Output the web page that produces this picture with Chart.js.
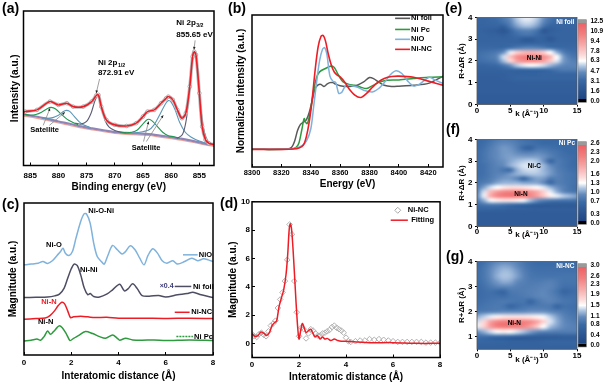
<!DOCTYPE html>
<html><head><meta charset="utf-8"><title>Ni XPS XAS figure</title>
<script src="https://cdn.jsdelivr.net/npm/chart.js@4.4.1/dist/chart.umd.min.js"></script>
<style>
html,body{margin:0;padding:0;background:#fff;}
#wrap{position:relative;width:606px;height:385px;overflow:hidden;background:#fff;font-family:"Liberation Sans",Arial,sans-serif;}
#wrap canvas{position:absolute;}
.pl{position:absolute;font-weight:bold;font-size:14px;line-height:14px;color:#000;white-space:nowrap;}
</style></head>
<body><div id="wrap">
<canvas id="ca" width="220" height="195" style="left:0;top:0"></canvas>
<canvas id="cb" width="226" height="195" style="left:222px;top:0"></canvas>
<canvas id="cc" width="222" height="193" style="left:0;top:192px"></canvas>
<canvas id="cd" width="226" height="193" style="left:222px;top:192px"></canvas>
<canvas id="ce" width="151" height="122" style="left:455px;top:0"></canvas>
<canvas id="cf" width="151" height="122" style="left:455px;top:122px"></canvas>
<canvas id="cg" width="151" height="125" style="left:455px;top:244px"></canvas>
<div class="pl" style="left:2px;top:1px">(a)</div>
<div class="pl" style="left:228px;top:1px">(b)</div>
<div class="pl" style="left:2px;top:197px">(c)</div>
<div class="pl" style="left:220px;top:196px">(d)</div>
<div class="pl" style="left:445px;top:1px">(e)</div>
<div class="pl" style="left:446px;top:122px">(f)</div>
<div class="pl" style="left:446px;top:249px">(g)</div>
</div>
<script>
// ================= DATA =================
// (a) XPS Ni 2p
const xpsTicks = [885,880,875,870,865,860,855];
const envBE = [886.2,885.9,883.8,881.5,880.0,878.5,877.4,875.6,874.1,873.3,872.9,872.4,871.5,870.0,867.9,866.2,865.0,864.2,863.0,861.8,860.9,860.5,859.7,858.9,858.1,857.4,856.7,856.2,855.9,855.6,855.0,854.5,853.9,853.3,852.4];
const envY  = [34.5,34.9,36.0,41.4,39.2,40.3,38.1,38.1,41.4,45.3,45.7,38.1,29.5,26.3,25.6,27.4,31.7,34.9,36.0,40.3,43.5,44.6,42.5,36.0,30.6,33.8,51.1,70.5,73.7,71.6,46.8,25.2,16.6,14.4,13.5];
const bgBE  = [886.2,884,882,880,878,876,874,872,870,868,866,864,862,860,858,856,854,852.4];
const bgY   = [33,31.7,30.2,28.5,27,25.3,24,22.8,21.6,21.1,20.7,20.3,19.3,18.3,17.2,15.8,14.2,13.4];
const bg2Y  = [32,30.7,29.2,27.5,26,24.4,23.1,21.9,20.7,20.2,19.8,19.4,18.4,17.4,16.3,14.9,13.3,12.5];
const p3BE = [859,858,857.3,856.8,856.3,855.9,855.6,855.2,854.8,854.3,853.8,853.3,852.4];
const p3Y  = [17.5,20,30,48,66,72,71,58,40,25,18,15,13.6];
const s3BE = [867,866,864,863,862,861,860.5,860,859.3,858.5,857.5,856.5,855,853.5];
const s3Y  = [21,21.3,23,26.5,33,40,42,41,36,28,21.5,18.5,15.8,14];
const g3BE = [869,868,867,866,865,864.2,863.5,862.5,861.5,860.5,859.5,858.5];
const g3Y  = [21.2,21.1,21.5,23,27,29.8,29.2,25.5,21.5,19.3,18.6,17.6];
const p1BE = [877,876,875,874.2,873.6,873.1,872.7,872.3,871.7,871,870,869,868];
const p1Y  = [27.5,26.8,28.5,34,41,45,43.5,37,29,24.8,22.6,21.6,21.2];
const s1BE = [883,882,881,880,879.2,878.6,878,877.2,876.3,875.5,874.5];
const s1Y  = [31,30.5,31,32.5,34.8,35.7,35,31.8,28.2,26.2,24.9];
const g1BE = [886,885,884,883,882,881.3,880.5,879.5,878.5,877.5,876.5];
const g1Y  = [33.2,32.5,33,34.5,36.8,37.6,36.6,33.2,30,28,26.3];

// (b) XANES
const xanesTicks = [8300,8320,8340,8360,8380,8400,8420];
const foilE = [8300,8324,8327,8329,8331,8333,8335,8337,8339,8341,8343,8345,8347,8349,8351,8353,8355,8357,8360,8364,8368,8372,8376,8380,8383,8386,8390,8395,8400,8410,8420,8430];
const foilY = [11.6,11.8,13,17,24,28,29.5,31,36,44,51.6,54,54.3,53,54.5,55.5,55.5,54.5,53.5,53,53.2,54,56,58.9,58,56,53.8,53,53.2,53.8,55,59.8];
const pcE = [8300,8326,8330,8332,8334,8335.5,8336.5,8337.5,8338.5,8340,8342,8344,8346,8350,8354,8356,8358,8360,8362,8366,8370,8374,8378,8382,8386,8392,8400,8410,8420,8430];
const pcY = [11.6,11.8,13,16,25,31.9,29.5,28.5,31,38,50.5,59,62.6,64.8,66.4,65.5,62,58.5,56,54.3,53.8,52.5,51.6,53.5,55.5,57.1,57.3,58.2,59,59.3];
const nioE = [8300,8325,8330,8334,8337,8340,8342,8344,8346,8348,8349.5,8351,8353,8355,8357,8359,8361,8364,8368,8372,8376,8382,8386,8390,8394,8398,8402,8406,8410,8414,8418,8421,8425,8430];
const nioY = [11.6,11.8,12.5,14,17,25,40,56,70,77.5,78.5,74,60,56.5,55.5,48.5,49,53.8,53.5,52.5,50.5,49.4,51.5,55.5,60.5,63.3,61.5,56.5,53.2,54.5,57.5,59,57,55];
const ncE = [8300,8320,8328,8332,8335,8337,8339,8341,8343,8345,8347,8348.5,8350,8352,8354,8356,8358,8360,8363,8366,8370,8374,8378,8382,8386,8390,8395,8400,8410,8420,8430];
const ncY = [11.6,11.6,11.8,12.5,14.5,20,30,45,64,79,86,86.5,83,74,67,62.5,60.5,59.3,56,51.5,47.3,45.7,48.4,52.5,56,58.2,59.5,59.8,59,56.5,53.8];

// (c) FT-EXAFS (stacked, offsets included)
const rTicks = [0,2,4,6,8];
const cR_NiO = [0,0.3,0.6,0.8,1.0,1.2,1.4,1.55,1.65,1.75,1.9,2.05,2.2,2.4,2.55,2.65,2.8,2.95,3.1,3.3,3.4,3.55,3.75,3.95,4.15,4.3,4.5,4.7,4.9,5.08,5.25,5.45,5.65,5.85,6.05,6.3,6.5,6.8,7.1,7.35,7.6,7.8,8.0];
const c_NiO  = [59.3,59.8,60.4,61.5,60.2,62,65.5,68.1,70.3,67,65.5,68.1,76.9,87.9,93,92.7,86.8,73.6,64.8,61.1,59.8,65.5,72.1,69.2,66.4,68.1,71.9,69.2,63.7,59.3,65.5,69.9,67,62,60.4,62,59.8,61.5,63.7,62,63.3,62.6,61.5];
const cR_foil = [0,0.5,1.0,1.3,1.5,1.7,1.85,2.0,2.12,2.25,2.4,2.55,2.7,2.8,2.95,3.2,3.5,3.75,4.05,4.25,4.4,4.6,4.8,5.0,5.3,5.7,6.0,6.5,6.9,7.15,7.5,8.0];
const c_foil  = [37.8,38,38.2,38.9,40,44,50.5,56.7,59.8,58.9,52.7,44,39.6,40.4,38.5,38.2,40,42.9,46.6,42.2,43.5,46.8,43.5,39.1,38.7,39.1,38.2,39.6,40.4,41.3,39.6,37.8];
const cR_NC = [0,0.5,0.9,1.1,1.3,1.45,1.6,1.72,1.85,1.97,2.1,2.4,2.7,3.0,3.5,4.0,5.0,6.0,7.0,8.0];
const c_NC  = [23.5,24,24.4,25.9,29.2,32.5,34.7,33.6,29,24.6,25.1,25.5,25.1,24.6,24.8,24.2,24.2,24,24.2,24];
const cR_Pc = [0,0.3,0.55,0.7,0.85,1.0,1.12,1.25,1.4,1.5,1.62,1.78,1.95,2.1,2.3,2.6,2.9,3.2,3.45,3.75,3.95,4.05,4.3,4.6,5.0,5.5,6.0,7.0,8.0];
const c_Pc  = [9.2,9.7,10.5,9.7,12.1,15.8,13.6,15.4,18,19.3,18,14.3,9.5,11,12.7,15.4,14.1,12.1,11,13.2,11,9.7,11,9.9,9.7,9.9,9.5,9.9,9.5];

// (d) Ni-NC fitting
const dYTicks = [0,2,4,6,8,10];
const dFitR = [0,0.12,0.25,0.38,0.5,0.62,0.75,0.85,0.95,1.05,1.15,1.25,1.35,1.45,1.52,1.58,1.63,1.68,1.74,1.8,1.87,1.94,2.0,2.07,2.14,2.22,2.3,2.4,2.5,2.58,2.68,2.78,2.9,3.0,3.1,3.2,3.35,3.5,3.65,3.8,4.0,4.5,5.0,6.0,7.0,8.0];
const dFit  = [0.7,0.5,0.55,0.8,0.72,0.55,0.8,1.25,1.45,1.6,2.6,3.2,3.8,4.9,6.3,8.0,8.45,8.1,6.8,5.1,3.0,1.2,0.3,0.9,1.4,1.1,0.75,0.9,1.0,0.75,0.45,0.55,0.3,0.45,0.3,0.35,0.2,0.3,0.2,0.15,0.15,0.1,0.05,0.05,0,0];
const dDataR = [0,0.1,0.2,0.3,0.4,0.5,0.6,0.7,0.8,0.9,1.0,1.1,1.2,1.3,1.4,1.5,1.6,1.7,1.8,1.9,2.0,2.1,2.2,2.3,2.4,2.5,2.6,2.7,2.8,2.9,3.0,3.1,3.2,3.3,3.4,3.5,3.6,3.7,3.8,3.9,4.0,4.1,4.2,4.4,4.6,4.8,5.0,5.2,5.4,5.6,5.8,6.0,6.2,6.4,6.6,6.8,7.0,7.2,7.4,7.6,7.8,8.0];
const dData  = [0.65,0.5,0.45,0.65,0.75,0.6,0.5,0.85,1.25,1.4,1.6,2.5,3.1,3.6,4.4,5.9,8.4,7.7,4.4,2.2,0.5,1.1,1.0,0.35,0.7,1.0,0.9,0.7,0.55,0.55,0.7,0.75,0.85,0.95,1.15,1.25,1.1,1.0,0.9,0.75,0.4,0.15,0.1,0.15,0.2,0.2,0.3,0.25,0.3,0.25,0.2,0.15,0.1,0.1,0.1,0.1,0.1,0.1,0.05,0.05,0.05,0.05];

// (e)-(g) wavelet transforms: values in % of colour-bar maximum
const kTicks = [0,5,10,15];
const wtK = [0,1,2,3,4,5,6,7,8,9,10,11,12,13,14,15];
const wtR = [4.0,3.8,3.6,3.4,3.2,3.0,2.8,2.6,2.4,2.2,2.0,1.8,1.6,1.4,1.2,1.0,0.8,0.6,0.4,0.2,0.0];
const wtFoil = [
[22,22,24,26,30,36,44,48,48,44,36,28,25,24,24,24],
[22,22,23,25,28,34,42,46,46,42,34,27,24,23,23,23],
[21,21,22,22,20,30,38,42,42,38,28,21,22,22,22,22],
[21,20,19,17,12,22,30,33,33,28,13,18,20,21,21,21],
[21,21,20,20,18,22,26,28,28,25,20,20,21,21,21,21],
[21,21,21,21,21,21,22,16,15,20,20,14,20,21,21,21],
[22,22,22,22,22,22,22,21,21,22,22,21,22,22,22,22],
[24,24,24,24,25,28,31,33,34,33,31,28,26,25,24,24],
[26,27,28,30,36,48,60,66,68,66,60,50,40,31,27,26],
[27,28,30,34,46,64,80,86,87,85,80,68,50,37,30,28],
[26,27,28,31,42,58,74,80,82,80,74,62,47,37,33,31],
[22,22,23,25,29,36,44,48,50,49,46,41,37,34,33,33],
[20,20,20,20,21,22,23,24,25,25,25,26,28,30,30,30],
[19,19,19,19,19,20,20,20,20,20,21,21,22,22,22,22],
[18,18,18,18,19,20,21,21,21,21,21,21,21,21,21,21],
[18,18,18,18,18,18,19,19,19,19,19,19,19,19,19,19],
[18,18,18,18,18,18,18,18,18,18,18,18,18,18,18,18],
[18,18,18,18,18,18,18,18,18,18,18,18,18,18,18,18],
[17,17,17,17,17,17,17,17,17,17,17,17,17,17,17,17],
[17,17,17,17,17,17,17,17,17,17,17,17,17,17,17,17],
[16,16,16,16,16,16,16,16,16,16,16,16,16,16,16,16]];
const wtPc = [
[24,25,27,30,32,31,29,27,26,25,24,24,24,24,24,24],
[25,26,29,33,35,34,31,28,27,26,25,25,25,25,25,24],
[25,27,31,35,37,36,32,24,20,28,28,27,26,25,25,24],
[26,28,32,35,37,37,35,32,32,34,33,30,28,26,25,25],
[26,28,32,35,37,38,38,38,38,38,36,32,29,27,26,25],
[26,28,31,34,36,39,42,44,45,43,36,22,30,28,26,25],
[26,27,30,33,35,40,44,47,47,45,41,35,31,28,26,25],
[26,27,30,32,28,26,40,45,46,45,41,37,32,29,27,26],
[26,27,30,33,34,37,40,41,43,43,41,37,33,30,28,27],
[27,28,31,35,37,37,33,22,34,38,37,30,32,30,28,27],
[28,31,35,39,41,41,41,39,39,39,35,24,31,30,28,27],
[30,38,46,50,54,56,56,55,53,51,47,41,36,32,28,26],
[30,46,66,76,82,84,84,82,78,71,60,48,40,34,30,28],
[32,48,70,82,87,89,89,87,83,75,63,53,48,44,41,38],
[30,40,49,53,55,55,53,49,42,36,32,30,29,28,28,27],
[26,28,30,30,28,26,24,22,19,16,15,15,15,15,15,16],
[21,21,21,20,20,19,19,19,18,18,18,18,18,18,18,18],
[17,17,17,17,17,17,17,17,17,17,17,17,17,17,17,17],
[17,17,17,17,17,17,17,17,17,17,17,17,17,17,17,17],
[16,16,16,16,16,16,16,16,16,16,16,16,16,16,16,16],
[16,16,16,16,16,16,16,16,16,16,16,16,16,16,16,16]];
const wtNC = [
[24,26,30,33,35,34,32,28,26,25,25,25,25,25,25,25],
[25,28,33,37,39,38,35,30,27,26,26,26,26,26,26,26],
[26,29,35,39,42,41,37,32,28,27,27,27,27,27,27,27],
[26,29,35,40,43,42,38,33,29,28,28,28,28,28,28,28],
[26,28,33,37,40,39,35,32,30,30,31,32,30,28,28,28],
[25,27,30,33,34,34,32,31,31,32,33,33,30,27,27,27],
[25,26,27,25,22,29,30,31,32,33,34,32,28,22,25,26],
[25,26,27,27,26,28,29,30,31,33,34,33,30,27,27,27],
[26,27,28,29,30,29,28,28,22,28,32,33,31,29,28,27],
[27,28,29,30,28,22,26,28,29,30,30,29,22,27,27,26],
[30,31,32,33,34,34,34,35,36,36,36,34,32,30,28,27],
[40,44,48,52,54,55,55,55,54,52,49,44,38,33,30,28],
[46,58,74,83,87,88,88,86,82,74,60,47,40,35,32,30],
[48,60,76,85,88,88,86,82,74,62,50,42,38,35,33,32],
[36,40,46,50,52,50,47,43,38,35,33,32,31,31,31,31],
[26,26,25,24,22,20,18,17,16,16,16,17,17,18,18,18],
[22,22,22,21,21,20,20,20,20,20,21,22,22,22,22,22],
[20,20,20,20,20,20,20,20,20,20,20,20,20,20,20,20],
[20,20,20,20,20,20,20,20,20,20,20,20,20,20,20,20],
[20,20,20,20,20,20,20,20,20,20,20,20,20,20,20,20],
[20,20,20,20,20,20,20,20,20,20,20,20,20,20,20,20]];
const cbFoilTicks = [0.0,1.6,3.1,4.7,6.3,7.8,9.4,10.9,12.5];
const cbPcTicks   = [0.0,0.3,0.7,1.0,1.3,1.6,2.0,2.3,2.6];
const cbNCTicks   = [0.0,0.4,0.8,1.1,1.5,1.9,2.3,2.6,3.0];

// ================= SETUP =================
const FONT = "'Liberation Sans', Arial, Helvetica, sans-serif";
Chart.defaults.font.family = FONT;
Chart.defaults.font.weight = 'bold';
Chart.defaults.color = '#000';
Chart.defaults.animation = false;
Chart.defaults.responsive = false;
Chart.defaults.plugins.legend.display = false;
Chart.defaults.plugins.tooltip.enabled = false;

const cmapStops = [[0,[30,70,132]],[15,[46,90,150]],[25,[58,106,166]],[35,[98,138,188]],[43,[172,196,226]],[50,[255,255,255]],[57,[252,220,220]],[70,[247,174,174]],[85,[242,128,128]],[100,[238,96,100]]];
function cmap(p){
  p = Math.max(0, Math.min(100, p));
  for (let i = 1; i < cmapStops.length; i++) {
    const [p0,c0] = cmapStops[i-1], [p1,c1] = cmapStops[i];
    if (p <= p1) { const t = (p-p0)/(p1-p0); return c0.map((c,j)=>Math.round(c+(c1[j]-c)*t)); }
  }
  return cmapStops[cmapStops.length-1][1];
}

const framePlugin = {
  id:'frame',
  afterDatasetsDraw(chart, args, o){
    if (!o || !o.w) return;
    const {ctx, chartArea:a} = chart;
    ctx.save(); ctx.strokeStyle = o.c || '#000'; ctx.lineWidth = o.w;
    ctx.strokeRect(a.left, a.top, a.right-a.left, a.bottom-a.top); ctx.restore();
  }
};
const heatPlugin = {
  id:'heat',
  beforeDatasetsDraw(chart, args, o){
    if (!o || !o.on) return;
    const pts = chart.data.datasets[0].data;
    const nc = wtK.length, nr = wtR.length;
    const off = document.createElement('canvas'); off.width = nc; off.height = nr;
    const octx = off.getContext('2d'); const img = octx.createImageData(nc, nr);
    pts.forEach(p => {
      const ci = wtK.indexOf(p.x), ri = wtR.indexOf(p.y); const c = cmap(p.v); const i = (ri*nc+ci)*4;
      img.data[i]=c[0]; img.data[i+1]=c[1]; img.data[i+2]=c[2]; img.data[i+3]=255;
    });
    octx.putImageData(img, 0, 0);
    const {ctx, chartArea:a, scales:{x, y}} = chart;
    const dk = wtK[1]-wtK[0], dr = wtR[0]-wtR[1];
    const x0 = x.getPixelForValue(wtK[0]-dk/2), x1 = x.getPixelForValue(wtK[nc-1]+dk/2);
    const y0 = y.getPixelForValue(wtR[0]+dr/2), y1 = y.getPixelForValue(wtR[nr-1]-dr/2);
    ctx.save(); ctx.beginPath(); ctx.rect(a.left, a.top, a.right-a.left, a.bottom-a.top); ctx.clip();
    ctx.imageSmoothingEnabled = true; ctx.imageSmoothingQuality = 'high';
    ctx.drawImage(off, x0, y0, x1-x0, y1-y0); ctx.restore();
  }
};
const cbarPlugin = {
  id:'cbar',
  afterDraw(chart, args, o){
    if (!o || !o.on) return;
    const {ctx, chartArea:a} = chart;
    const x0 = a.right+1, w = 8.5, top = a.top+2.3, bot = a.bottom-2.3, cap = 3.3;
    const g = ctx.createLinearGradient(0, bot-cap, 0, top+cap);
    cmapStops.forEach(([p,c]) => g.addColorStop(p/100, `rgb(${c})`));
    ctx.save();
    ctx.fillStyle = g; ctx.fillRect(x0, top+cap, w, bot-top-2*cap);
    ctx.fillStyle = '#9a9a9a'; ctx.fillRect(x0, top, w, cap);
    ctx.fillStyle = '#000'; ctx.fillRect(x0, bot-cap, w, cap);
    ctx.strokeStyle = '#8a8a8a'; ctx.lineWidth = 0.6; ctx.strokeRect(x0, top, w, bot-top);
    ctx.restore();
  }
};
const annotPlugin = {
  id:'annot',
  afterDatasetsDraw(chart, args, o){
    if (!o) return;
    const {ctx, scales:{x, y}} = chart;
    ctx.save();
    (o.lines||[]).forEach(l => {
      const ax = x.getPixelForValue(l.x1), ay = y.getPixelForValue(l.y1), bx = x.getPixelForValue(l.x2), by = y.getPixelForValue(l.y2);
      ctx.beginPath(); ctx.strokeStyle = l.c; ctx.lineWidth = l.w||1; ctx.setLineDash(l.dash||[]);
      ctx.moveTo(ax, ay); ctx.lineTo(bx, by); ctx.stroke(); ctx.setLineDash([]);
      if (l.arrow) {
        const ang = Math.atan2(by-ay, bx-ax), s = 3;
        ctx.beginPath(); ctx.fillStyle = '#222';
        ctx.moveTo(bx, by);
        ctx.lineTo(bx - s*Math.cos(ang-0.45), by - s*Math.sin(ang-0.45));
        ctx.lineTo(bx - s*Math.cos(ang+0.45), by - s*Math.sin(ang+0.45));
        ctx.closePath(); ctx.fill();
      }
    });
    (o.marks||[]).forEach(m => {
      const px = x.getPixelForValue(m.x), py = y.getPixelForValue(m.y), r = m.r||3;
      ctx.beginPath(); ctx.strokeStyle = m.c; ctx.lineWidth = 1;
      ctx.moveTo(px, py-r); ctx.lineTo(px+r, py); ctx.lineTo(px, py+r); ctx.lineTo(px-r, py); ctx.closePath(); ctx.stroke();
    });
    (o.texts||[]).forEach(t => {
      const s = t.s||8;
      ctx.font = `bold ${s}px ${FONT}`; ctx.fillStyle = t.c||'#000';
      ctx.textAlign = t.a||'left'; ctx.textBaseline = 'middle';
      const px = x.getPixelForValue(t.x), py = y.getPixelForValue(t.y);
      ctx.fillText(t.t, px, py);
      if (t.sub) {
        const wdt = ctx.measureText(t.t).width;
        ctx.font = `bold ${s*0.65}px ${FONT}`; ctx.textAlign = 'left';
        ctx.fillText(t.sub, px + wdt + 0.5, py + s*0.32);
      }
    });
    ctx.restore();
  }
};
Chart.register(framePlugin, heatPlugin, cbarPlugin, annotPlugin);

function pts(xs, ys){ return xs.map((v,i) => ({x:v, y:ys[i]})); }
function line(label, xs, ys, color, w, extra){
  return Object.assign({label, data:pts(xs,ys), showLine:true, borderColor:color, backgroundColor:color,
    borderWidth:w||1.4, pointRadius:0, tension:0.3}, extra||{});
}
function fixedTicks(arr){ return s => { s.ticks = arr.map(v => ({value:v})); }; }
function xAxis(o){
  return {type:'linear', position:'bottom', min:o.min, max:o.max, reverse:!!o.reverse,
    afterBuildTicks: fixedTicks(o.ticks), afterFit: s => { s.height = o.h; },
    grid:{display:true, drawOnChartArea:false, drawTicks:true, tickLength:(o.tl===undefined?-3:o.tl), color:'#000', lineWidth:1},
    border:{display:false},
    ticks:{autoSkip:false, maxRotation:0, minRotation:0, padding:o.lpad, color:'#000',
      font:{size:o.lsize||8, weight:'bold', family:FONT}, callback:o.fmt||(v=>String(v))},
    title:{display:!!o.title, text:o.title, color:'#000', padding:{top:0, bottom:o.tpad||0},
      font:{size:o.tsize||10, weight:'bold', family:FONT}}};
}
function yAxis(o){
  const ax = {type:'linear', position:o.pos||'left', min:o.min, max:o.max,
    afterFit: s => { s.width = o.w; },
    grid:{display:!!o.ticks, drawOnChartArea:false, drawTicks:!!o.ticks, tickLength:(o.tl===undefined?-3:o.tl), color:'#000', lineWidth:1},
    border:{display:false},
    ticks:{display:!!o.ticks, autoSkip:false, padding:o.lpad||0, color:'#000',
      font:{size:o.lsize||8, weight:'bold', family:FONT}, callback:o.fmt||(v=>String(v))},
    title:{display:!!o.title, text:o.title, color:'#000', padding:{top:o.tpad||0, bottom:0},
      font:{size:o.tsize||10, weight:'bold', family:FONT}}};
  if (o.ticks) ax.afterBuildTicks = fixedTicks(o.ticks);
  return ax;
}

// ================= (a) XPS =================
const RED = '#ee1c25';
new Chart(document.getElementById('ca'), {
  type:'scatter',
  data:{datasets:[
    line('Fit', envBE, envY, RED, 1.6),
    line('Raw', envBE, envY, 'rgba(175,175,175,0.85)', 3.2, {pointRadius:1.8, pointBackgroundColor:'#fff', pointBorderColor:'#9c9c9c', pointBorderWidth:0.8}),
    line('Ni2+ 2p3/2', p3BE, p3Y, '#5c5c74', 1.1),
    line('Ni 860.5', s3BE, s3Y, '#5a96b8', 1.1),
    line('Sat 864', g3BE, g3Y, '#1f9a50', 1.1),
    line('Ni2+ 2p1/2', p1BE, p1Y, '#5c5c74', 1.1),
    line('Ni 878.5', s1BE, s1Y, '#5a96b8', 1.1),
    line('Sat 881', g1BE, g1Y, '#1f9a50', 1.1),
    line('Background', bgBE, bgY, '#8f86b8', 2.2),
    line('Background 2', bgBE, bg2Y, '#f2a79a', 1.2)
  ]},
  options:{
    layout:{padding:{left:0, top:11, right:6, bottom:0}},
    scales:{
      x: xAxis({min:852.4, max:886.2, reverse:true, ticks:xpsTicks, h:29.5, lpad:8.7, title:'Binding energy (eV)', tpad:2}),
      y: yAxis({min:0, max:100, w:23.5, title:'Intensity (a.u.)', tpad:9.5})
    },
    plugins:{
      frame:{w:1.5},
      annot:{
        lines:[
          {x1:872.7,y1:56,x2:873.3,y2:46.8,c:'#888',w:0.8,arrow:true},
          {x1:855.75,y1:81,x2:855.95,y2:75,c:'#888',w:0.8,arrow:true},
          {x1:882.7,y1:26,x2:881.5,y2:37,c:'#888',w:0.8,arrow:true},
          {x1:881.6,y1:26,x2:878.85,y2:34.5,c:'#888',w:0.8,arrow:true},
          {x1:864.9,y1:15.5,x2:864.0,y2:28.5,c:'#888',w:0.8,arrow:true},
          {x1:864.4,y1:15.5,x2:861.4,y2:32.5,c:'#888',w:0.8,arrow:true}
        ],
        texts:[
          {x:859.1,y:92.2,t:'Ni 2p',sub:'3/2',s:8},
          {x:859.1,y:84.5,t:'855.65 eV',s:8},
          {x:873.0,y:66.4,t:'Ni 2p',sub:'1/2',s:8},
          {x:873.0,y:59.9,t:'872.91 eV',s:8},
          {x:885.0,y:23.1,t:'Satellite',s:7.5},
          {x:867.0,y:11.4,t:'Satellite',s:7.5}
        ]
      }
    }
  }
});

// ================= (b) XANES =================
const C_FOIL = '#595959', C_PC = '#2e9a3e', C_NIO = '#7fb2dc';
new Chart(document.getElementById('cb'), {
  type:'scatter',
  data:{datasets:[
    line('Ni-NC', ncE, ncY, RED, 1.6),
    line('NiO', nioE, nioY, C_NIO, 1.5),
    line('Ni Pc', pcE, pcY, C_PC, 1.5),
    line('Ni foil', foilE, foilY, C_FOIL, 1.5)
  ]},
  options:{
    layout:{padding:{left:0, top:15, right:5, bottom:0}},
    scales:{
      x: xAxis({min:8300, max:8430, ticks:xanesTicks, h:28, lsize:7.5, lpad:4.8, title:'Energy (eV)', tpad:5}),
      y: yAxis({min:0, max:100, w:30, title:'Normalized intensity (a.u.)', tpad:13.7})
    },
    plugins:{
      frame:{w:1.5},
      annot:{
        lines:[
          {x1:8397.4,y1:97.8,x2:8407.6,y2:97.8,c:C_FOIL,w:1.6},
          {x1:8397.4,y1:90.5,x2:8407.6,y2:90.5,c:C_PC,w:1.6},
          {x1:8397.4,y1:84,x2:8407.6,y2:84,c:C_NIO,w:1.6},
          {x1:8397.4,y1:77.4,x2:8407.6,y2:77.4,c:RED,w:1.6}
        ],
        texts:[
          {x:8408.3,y:97.8,t:'Ni foil',s:7.5},
          {x:8408.3,y:90.5,t:'Ni Pc',s:7.5},
          {x:8408.3,y:84,t:'NiO',s:7.5},
          {x:8408.3,y:77.4,t:'Ni-NC',s:7.5}
        ]
      }
    }
  }
});

// ================= (c) FT-EXAFS =================
const C_FOIL2 = '#4d4d63';
new Chart(document.getElementById('cc'), {
  type:'scatter',
  data:{datasets:[
    line('NiO', cR_NiO, c_NiO, C_NIO, 1.5),
    line('Ni foil', cR_foil, c_foil, C_FOIL2, 1.5),
    line('Ni-NC', cR_NC, c_NC, RED, 1.5),
    line('Ni Pc', cR_Pc, c_Pc, C_PC, 1.5)
  ]},
  options:{
    layout:{padding:{left:0, top:11, right:9, bottom:0}},
    scales:{
      x: xAxis({min:0, max:8, ticks:rTicks, h:30, lpad:6.2, title:'Interatomic distance (Å)', tpad:2.3}),
      y: yAxis({min:0, max:100, w:24, title:'Magnitude (a.u.)', tpad:7.3})
    },
    plugins:{
      frame:{w:1.5},
      annot:{
        lines:[
          {x1:6.73,y1:65.9,x2:7.35,y2:65.9,c:C_NIO,w:1.5},
          {x1:6.38,y1:45.1,x2:7.08,y2:45.1,c:C_FOIL2,w:1.5},
          {x1:6.38,y1:28.1,x2:7.01,y2:28.1,c:RED,w:1.5},
          {x1:6.45,y1:12.1,x2:7.15,y2:12.1,c:C_PC,w:1.5,dash:[2,1]}
        ],
        texts:[
          {x:2.72,y:95,t:'Ni-O-Ni',s:7.5},
          {x:1.6,y:72.5,t:'Ni-O',s:7.5,a:'right'},
          {x:2.37,y:56,t:'Ni-Ni',s:7.5},
          {x:1.38,y:34.7,t:'Ni-N',s:7.5,a:'right',c:RED},
          {x:1.24,y:22,t:'Ni-N',s:7.5,a:'right'},
          {x:7.4,y:65.9,t:'NiO',s:7.5},
          {x:6.33,y:45.1,t:'×0.4',s:7,a:'right',c:'#3a3a78'},
          {x:7.15,y:45.1,t:'Ni foil',s:7.5},
          {x:7.08,y:28.1,t:'Ni-NC',s:7.5},
          {x:7.2,y:12.1,t:'Ni Pc',s:7.5}
        ]
      }
    }
  }
});

// ================= (d) Fitting =================
new Chart(document.getElementById('cd'), {
  type:'scatter',
  data:{datasets:[
    line('Fitting', dFitR, dFit, RED, 1.5),
    {label:'Ni-NC', data:pts(dDataR, dData), showLine:false, pointStyle:'rectRot', pointRadius:2.8,
     pointBackgroundColor:'rgba(255,255,255,0)', pointBorderColor:'#a9a9a9', pointBorderWidth:0.9}
  ]},
  options:{
    layout:{padding:{left:0, top:9, right:5, bottom:0}},
    scales:{
      x: xAxis({min:0, max:8, ticks:rTicks, h:27.5, lpad:5.7, title:'Interatomic distance (Å)', tpad:1.3}),
      y: yAxis({min:-1, max:10, w:30, ticks:dYTicks, lpad:5, title:'Magnitude (a.u.)', tpad:5.3})
    },
    plugins:{
      frame:{w:1.5},
      annot:{
        lines:[{x1:5.9,y1:8.7,x2:6.63,y2:8.7,c:RED,w:1.5}],
        marks:[{x:6.2,y:9.4,c:'#a9a9a9',r:3}],
        texts:[
          {x:6.63,y:9.4,t:'Ni-NC',s:7.5},
          {x:6.77,y:8.7,t:'Fitting',s:7.5}
        ]
      }
    }
  }
});

// ================= (e)-(g) WT maps =================
function heatData(mat){
  const d = [];
  wtR.forEach((r,ri) => wtK.forEach((k,ci) => d.push({x:k, y:r, v:mat[ri][ci]})));
  return d;
}
function wtChart(id, mat, cbTicks, cbMax, yMin, yTicks, h, lpad, tpad, texts){
  new Chart(document.getElementById(id), {
    type:'scatter',
    data:{datasets:[{label:'WT', data:heatData(mat), pointRadius:0, showLine:false}]},
    options:{
      layout:{padding:{left:0, top:12, right:0, bottom:0}},
      scales:{
        x: xAxis({min:0, max:15, ticks:kTicks, h:h, tl:2, lpad:lpad, title:'k (Å⁻¹)', tsize:8, tpad:tpad}),
        y: yAxis({min:yMin, max:4, w:22, ticks:yTicks, tl:2, lpad:2.5, title:'R+ΔR (Å)', tsize:8, tpad:1.9}),
        cb: {type:'linear', position:'right', min:-0.045*cbMax, max:1.045*cbMax,
          afterBuildTicks: fixedTicks(cbTicks), afterFit: s => { s.width = 29; },
          grid:{display:false, drawTicks:false}, border:{display:false},
          ticks:{autoSkip:false, padding:13.5, color:'#000', font:{size:6.5, weight:'bold', family:FONT}, callback:v=>v.toFixed(1)}}
      },
      plugins:{ heat:{on:true}, cbar:{on:true}, frame:{w:0.8, c:'#555'}, annot:{texts:texts} }
    }
  });
}
wtChart('ce', wtFoil, cbFoilTicks, 12.5, 0, [0,1,2,3,4], 14.7, -1, 1.2, [
  {x:14.6,y:3.8,t:'Ni foil',a:'right',c:'#fff',s:6.5},
  {x:8.6,y:2.12,t:'Ni-Ni',a:'center',s:6.5}
]);
wtChart('cf', wtPc, cbPcTicks, 2.6, 0, [0,1,2,3,4], 15.7, -1.8, 2.5, [
  {x:14.7,y:3.83,t:'Ni Pc',a:'right',c:'#fff',s:6.5},
  {x:8.6,y:2.77,t:'Ni-C',a:'center',s:6.5},
  {x:6.6,y:1.49,t:'Ni-N',a:'center',s:6.5}
]);
wtChart('cg', wtNC, cbNCTicks, 3.0, 0.5, [1,2,3,4], 19.7, 0, 4.2, [
  {x:14.6,y:3.82,t:'Ni-NC',a:'right',c:'#fff',s:6.5},
  {x:5.6,y:1.53,t:'Ni-N',a:'center',s:6.5}
]);
</script>
</body></html>
